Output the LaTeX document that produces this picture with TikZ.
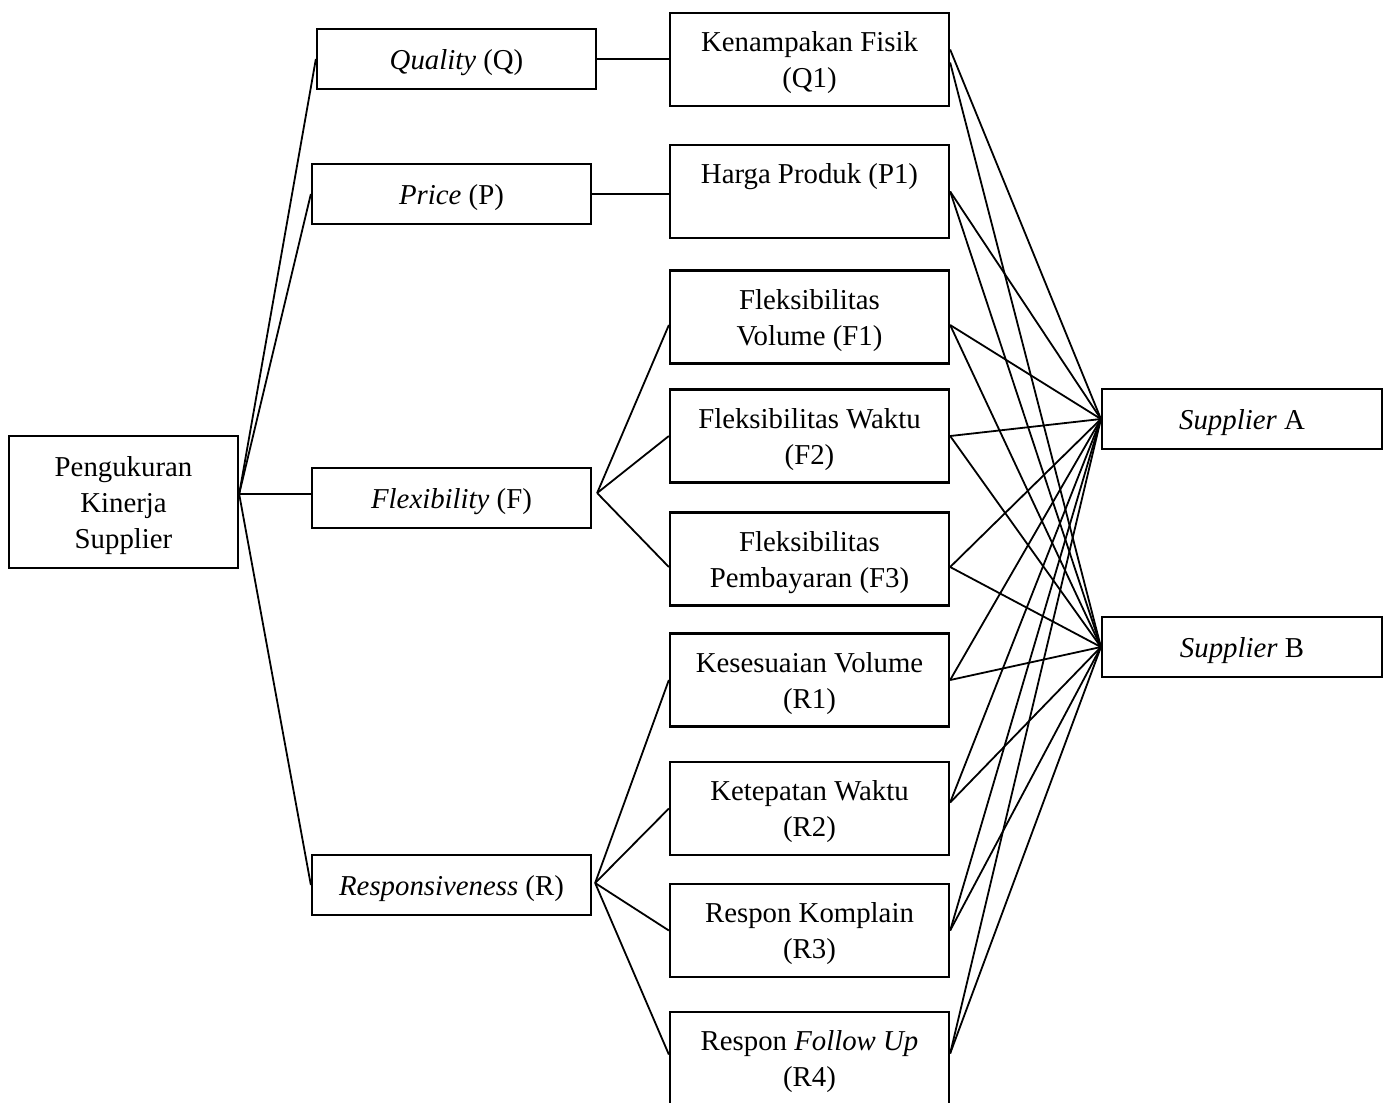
\documentclass[tikz,border=0pt]{standalone}
\usepackage{fontspec}
\setmainfont{Liberation Serif}
\usetikzlibrary{calc}
\begin{document}
\begin{tikzpicture}[x=0.4444pt,y=-0.4444pt,
  bx/.style={draw, line width=1pt, inner sep=0pt, align=center, text depth=0pt,
    font=\fontsize{12.8}{16}\selectfont, minimum width=124pt, minimum height=41.3pt},
  sbx/.style={bx, minimum height=26.7pt},
  cn/.style={line width=0.8pt}]
\useasboundingbox (0,0) rectangle (1389,1102);
% nodes
\node[bx, minimum width=101.8pt, minimum height=58.7pt] (root) at (123.5,502) {Pengukuran\\Kinerja\\Supplier};
\node[sbx] (Q) at (456.5,59) {\textit{Quality} (Q)};
\node[sbx] (P) at (451.5,194) {\textit{Price} (P)};
\node[sbx] (F) at (451.5,498) {\textit{Flexibility} (F)};
\node[sbx] (R) at (451.5,885) {\textit{Responsiveness} (R)};
\node[bx] (Q1) at (809.5,59.5) {Kenampakan Fisik\\(Q1)};
\node[bx] (P1) at (809.5,191.5) {Harga Produk (P1)\\~};
\node[bx] (F1) at (809.5,317) {Fleksibilitas\\Volume (F1)};
\node[bx] (F2) at (809.5,436) {Fleksibilitas Waktu\\(F2)};
\node[bx] (F3) at (809.5,559) {Fleksibilitas\\Pembayaran (F3)};
\node[bx] (R1) at (809.5,680) {Kesesuaian Volume\\(R1)};
\node[bx] (R2) at (809.5,808.5) {Ketepatan Waktu\\(R2)};
\node[bx] (R3) at (809.5,930.5) {Respon Komplain\\(R3)};
\node[bx] (R4) at (809.5,1058.5) {Respon \textit{Follow Up}\\(R4)};
\node[sbx, minimum width=124.4pt] (A) at (1242,419) {\textit{Supplier} A};
\node[sbx, minimum width=124.4pt] (B) at (1242,647) {\textit{Supplier} B};
% connectors: root to criteria
\coordinate (ro) at ($(root.east)+(0,-8)$);
\draw[cn] (ro) -- (Q.west);
\draw[cn] (ro) -- (P.west);
\draw[cn] (ro) -- ($(F.west)+(0,-4)$);
\draw[cn] (ro) -- (R.west);
% criteria to sub-criteria
\draw[cn] (Q.east) -- (Q.east -| Q1.west);
\draw[cn] (P.east) -- (P.east -| P1.west);
\coordinate (fo) at ($(F.east)+(5,-5)$);
\draw[cn] (fo) -- ($(F1.west)+(0,8)$);
\draw[cn] (fo) -- (F2.west);
\draw[cn] (fo) -- ($(F3.west)+(0,8)$);
\coordinate (rf) at ($(R.east)+(3,-2)$);
\draw[cn] (rf) -- (R1.west);
\draw[cn] (rf) -- (R2.west);
\draw[cn] (rf) -- (R3.west);
\draw[cn] (rf) -- ($(R4.west)+(0,-4)$);
% sub-criteria to suppliers
\draw[cn] ($(Q1.east)+(0,-10)$) -- (A.west);
\draw[cn] ($(Q1.east)+(0,3)$) -- (B.west);
\draw[cn] (P1.east) -- (A.west);
\draw[cn] (P1.east) -- (B.west);
\draw[cn] ($(F1.east)+(0,8)$) -- (A.west);
\draw[cn] ($(F1.east)+(0,8)$) -- (B.west);
\draw[cn] (F2.east) -- (A.west);
\draw[cn] (F2.east) -- (B.west);
\draw[cn] ($(F3.east)+(0,8)$) -- (A.west);
\draw[cn] ($(F3.east)+(0,8)$) -- (B.west);
\draw[cn] (R1.east) -- (A.west);
\draw[cn] (R1.east) -- (B.west);
\draw[cn] ($(R2.east)+(0,-6)$) -- (A.west);
\draw[cn] ($(R2.east)+(0,-6)$) -- (B.west);
\draw[cn] (R3.east) -- (A.west);
\draw[cn] (R3.east) -- (B.west);
\draw[cn] ($(R4.east)+(0,-5)$) -- (A.west);
\draw[cn] ($(R4.east)+(0,-5)$) -- (B.west);
\end{tikzpicture}
\end{document}
